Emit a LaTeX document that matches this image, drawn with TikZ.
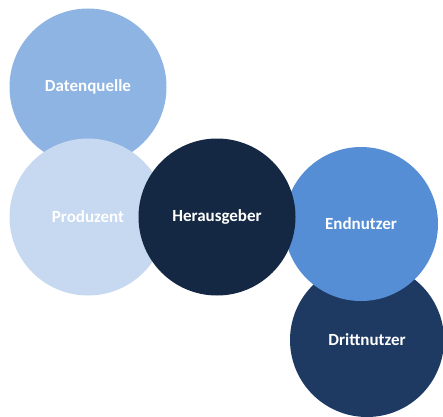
\documentclass[tikz,border=0pt]{standalone}
\usepackage{fontspec}
\setmainfont{Carlito}
\usepackage{tikz}
\usetikzlibrary{positioning}
\definecolor{quelleblue}{HTML}{8DB4E2}
\definecolor{produblue}{HTML}{C6D9F1}
\definecolor{herausnavy}{HTML}{142843}
\definecolor{endblue}{HTML}{568ED6}
\definecolor{drittnavy}{HTML}{1E3A63}
\tikzstyle{rnode} = [circle, inner sep = 0pt, text = white, font = \fontsize{17}{20}\selectfont\bfseries]

\begin{document}
\begin{tikzpicture}[x=1pt, y=1pt]
			\useasboundingbox (0,0) rectangle (443,416);
			\node [rnode, fill=quelleblue, minimum size=157pt] (quelle) at (88, 329) {Datenquelle};
			\node [rnode, fill=produblue, minimum size=157pt] (produ) at (88, 199) {Produzent};
			\node [rnode, fill=drittnavy, minimum size=154pt] (dritt) at (367, 76) {Drittnutzer};
			\node [rnode, fill=endblue, minimum size=154pt] (end) at (361, 192) {Endnutzer};
			\node [rnode, fill=herausnavy, minimum size=157pt] (heraus) at (217, 199) {Herausgeber};
		\end{tikzpicture}
\end{document}
